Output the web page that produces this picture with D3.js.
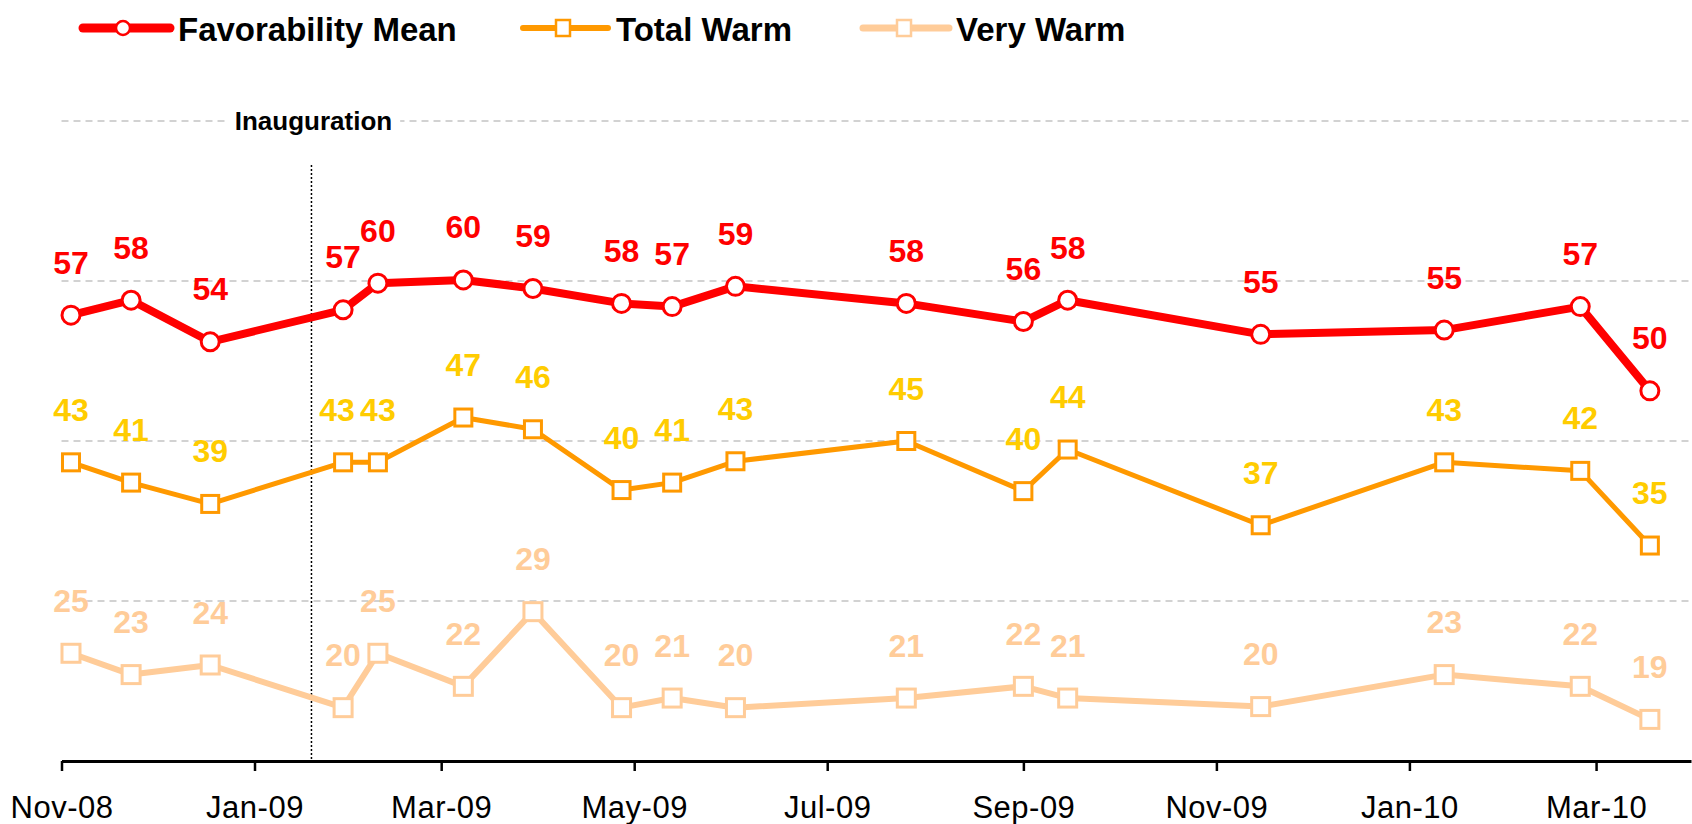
<!DOCTYPE html>
<html lang="en">
<head>
  <meta charset="UTF-8">
  <title>Favorability Mean, Total Warm, Very Warm</title>
  <script src="https://d3js.org/d3.v7.min.js"></script>
  <style>
    body {
      margin: 0;
      background: #fff;
    }
    svg {
      display: block;
      font-family: Arial, "Liberation Sans", sans-serif;
    }
  </style>
</head>
<body>
  <svg width="1692" height="824"></svg>

  <script>
    // survey dates
    const dates = ["2008-11-04", "2008-11-23", "2008-12-18", "2009-01-29", "2009-02-09",
      "2009-03-08", "2009-03-30", "2009-04-27", "2009-05-13", "2009-06-02", "2009-07-26",
      "2009-09-01", "2009-09-15", "2009-11-15", "2010-01-12", "2010-02-24", "2010-03-18"];

    const favorability = [56.8, 58.2, 54.3, 57.3, 59.8, 60.1, 59.3, 57.9, 57.6, 59.5, 57.9,
      56.2, 58.2, 55.0, 55.4, 57.6, 49.7];
    const favLabels = [57, 58, 54, 57, 60, 60, 59, 58, 57, 59, 58, 56, 58, 55, 55, 57, 50];

    const totalWarm = [43.0, 41.1, 39.1, 43.0, 43.0, 47.2, 46.1, 40.4, 41.1, 43.1, 45.0,
      40.3, 44.2, 37.1, 43.0, 42.2, 35.2];
    const totalLabels = [43, 41, 39, 43, 43, 47, 46, 40, 41, 43, 45, 40, 44, 37, 43, 42, 35];

    const veryWarm = [25.1, 23.1, 24.0, 20.0, 25.1, 22.0, 29.0, 20.0, 20.9, 20.0, 20.9,
      22.0, 20.9, 20.1, 23.1, 22.0, 18.9];
    const veryLabels = [25, 23, 24, 20, 25, 22, 29, 20, 21, 20, 21, 22, 21, 20, 23, 22, 19];

    const seriesNames = ["Favorability Mean", "Total Warm", "Very Warm"];
    const tickDates = ["2008-11-01", "2009-01-01", "2009-03-01", "2009-05-01", "2009-07-01",
      "2009-09-01", "2009-11-01", "2010-01-01", "2010-03-01"];
    const gridValues = [30, 45, 60, 75];
    const inauguration = "2009-01-19";

    const parse = d3.timeParse("%Y-%m-%d");
    const svg = d3.select("svg");
    const W = 1692;

    const x = d3.scaleTime()
      .domain([parse("2008-11-01"), parse("2010-03-31")])
      .range([61.5, 1691]);
    const y = d3.scaleLinear()
      .domain([15, 75])
      .range([761, 121]);

    // gridlines
    svg.append("g").selectAll("line")
      .data(gridValues)
      .join("line")
      .attr("x1", x.range()[0]).attr("x2", W)
      .attr("y1", d => y(d)).attr("y2", d => y(d))
      .attr("stroke", "#c4c4c4")
      .attr("stroke-width", 1.5)
      .attr("stroke-dasharray", "7,5");

    // inauguration marker
    const ix = x(parse(inauguration));
    svg.append("line")
      .attr("x1", ix).attr("x2", ix)
      .attr("y1", y(75) + 44).attr("y2", y(15))
      .attr("stroke", "#000")
      .attr("stroke-width", 1.5)
      .attr("stroke-dasharray", "2,2");

    const inaugText = svg.append("text")
      .attr("x", ix + 2)
      .attr("y", y(75) + 9)
      .attr("text-anchor", "middle")
      .attr("font-size", 26)
      .attr("font-weight", "bold")
      .text("Inauguration");
    const bb = inaugText.node().getBBox();
    svg.insert("rect", "text")
      .attr("x", bb.x - 8).attr("y", bb.y)
      .attr("width", bb.width + 16).attr("height", bb.height)
      .attr("fill", "#fff");

    // x axis
    const xAxis = d3.axisBottom(x)
      .tickValues(tickDates.map(parse))
      .tickFormat(d3.timeFormat("%b-%y"))
      .tickSize(10)
      .tickSizeOuter(0)
      .tickPadding(25);

    const gx = svg.append("g")
      .attr("transform", `translate(0,${y(15)})`)
      .call(xAxis);
    gx.select(".domain").attr("stroke", "#000").attr("stroke-width", 3);
    gx.selectAll(".tick line").attr("stroke", "#000").attr("stroke-width", 2.5);
    gx.selectAll(".tick text")
      .attr("fill", "#000")
      .attr("font-size", 31)
      .attr("font-family", "Arial, 'Liberation Sans', sans-serif")
      .attr("letter-spacing", 0.5);

    const series = [
      { name: seriesNames[0], values: favorability, labels: favLabels, color: "#ff0000", labelColor: "#ff0000", width: 8, shape: "circle", size: 9 },
      { name: seriesNames[1], values: totalWarm, labels: totalLabels, color: "#ff9900", labelColor: "#ffcc00", width: 5, shape: "square", size: 17 },
      { name: seriesNames[2], values: veryWarm, labels: veryLabels, color: "#ffcc99", labelColor: "#ffcc99", width: 6, shape: "square", size: 18 }
    ];

    // label nudges where two labels would collide (Total Warm, Jan-09)
    const labelNudge = { "1-3": -6 };

    const line = d3.line()
      .x(d => x(d.date))
      .y(d => y(d.v));

    series.forEach(s => {
      const pts = dates.map((d, i) => ({ date: parse(d), v: s.values[i], label: s.labels[i] }));
      const g = svg.append("g");

      g.append("path")
        .datum(pts)
        .attr("fill", "none")
        .attr("stroke", s.color)
        .attr("stroke-width", s.width)
        .attr("stroke-linejoin", "round")
        .attr("d", line);

      if (s.shape === "circle") {
        g.selectAll("circle").data(pts).join("circle")
          .attr("cx", d => x(d.date)).attr("cy", d => y(d.v))
          .attr("r", s.size)
          .attr("fill", "#fff")
          .attr("stroke", s.color)
          .attr("stroke-width", 3);
      } else {
        g.selectAll("rect").data(pts).join("rect")
          .attr("x", d => x(d.date) - s.size / 2).attr("y", d => y(d.v) - s.size / 2)
          .attr("width", s.size).attr("height", s.size)
          .attr("fill", "#fff")
          .attr("stroke", s.color)
          .attr("stroke-width", 3);
      }

      s.pts = pts;
    });

    // data labels on top
    series.forEach((s, si) => {
      svg.append("g").selectAll("text").data(s.pts).join("text")
        .attr("x", (d, i) => x(d.date) + (labelNudge[si + "-" + i] || 0))
        .attr("y", d => y(d.v) - 41.5)
        .attr("text-anchor", "middle")
        .attr("font-size", 32)
        .attr("font-weight", "bold")
        .attr("fill", s.labelColor)
        .text(d => d.label);
    });

    // legend
    const legendPos = [
      { x0: 83, x1: 170, mx: 123, tx: 178 },
      { x0: 523, x1: 608, mx: 563, tx: 616 },
      { x0: 863, x1: 949, mx: 904, tx: 956 }
    ];
    const ly = 28;

    series.forEach((s, i) => {
      const p = legendPos[i];
      const g = svg.append("g");
      g.append("line")
        .attr("x1", p.x0).attr("x2", p.x1)
        .attr("y1", ly).attr("y2", ly)
        .attr("stroke", s.color)
        .attr("stroke-width", s.width + 1)
        .attr("stroke-linecap", "round");
      if (s.shape === "circle") {
        g.append("circle")
          .attr("cx", p.mx).attr("cy", ly).attr("r", 7)
          .attr("fill", "#fff").attr("stroke", s.color).attr("stroke-width", 2.5);
      } else {
        g.append("rect")
          .attr("x", p.mx - 7).attr("y", ly - 8)
          .attr("width", 14).attr("height", 16)
          .attr("fill", "#fff").attr("stroke", s.color).attr("stroke-width", 2.5);
      }
      g.append("text")
        .attr("x", p.tx).attr("y", ly + 13)
        .attr("font-size", 33)
        .attr("font-weight", "bold")
        .attr("fill", "#000")
        .text(s.name);
    });
  </script>
</body>
</html>
